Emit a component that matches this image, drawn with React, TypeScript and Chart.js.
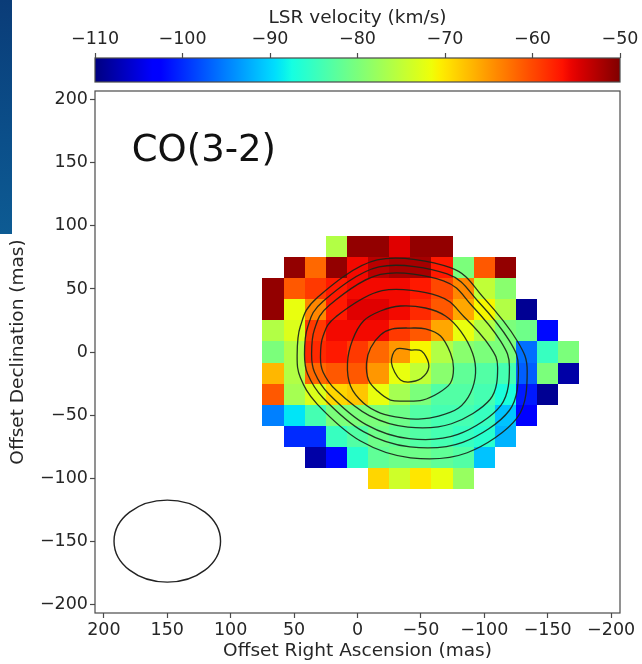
import { useEffect, useRef } from "react";
import { Chart, registerables } from "chart.js";

Chart.register(...registerables);

// Axis ticks (mas) and colour-bar ticks (km/s)
const X_TICKS = [200, 150, 100, 50, 0, -50, -100, -150, -200];
const Y_TICKS = [200, 150, 100, 50, 0, -50, -100, -150, -200];
const CB_TICKS = [-110, -100, -90, -80, -70, -60, -50];
const V_MIN = -110;
const V_MAX = -50;
const AXIS_LIMIT = 207;

// Pixel grid of the velocity map (cell centres in mas)
const CELL = 50 / 3;
const X_CENTERS = [66.67, 50, 33.33, 16.67, 0, -16.67, -33.33, -50, -66.67, -83.33, -100, -116.67, -133.33, -150, -166.67];
const Y_CENTERS = [83.33, 66.67, 50, 33.33, 16.67, 0, -16.67, -33.33, -50, -66.67, -83.33, -100];

// LSR velocity per cell (km/s), one row per declination, east to west
const ROW_0 = [null, null, null, -76, -51, -51, -55, -51, -51, null, null, null, null, null, null];
const ROW_1 = [null, -51, -62, -51, -56, -53, -52, -52, -57, -80, -61, -51, null, null, null];
const ROW_2 = [-51, -61, -59, -57, -56, -56, -56, -57, -60, -64, -75, -79, null, null, null];
const ROW_3 = [-51, -72, -64, -57, -55, -55, -56, -58, -61, -66, -71, -76, -109, null, null];
const ROW_4 = [-76, -73, -59, -56, -56, -56, -59, -61, -66, -72, -76, -80, -81, -102, null];
const ROW_5 = [-80, -76, -58, -57, -59, -62, -65, -71, -76, -79, -80, -80, -96, -85, -80];
const ROW_6 = [-67, -76, -62, -61, -61, -65, -72, -75, -79, -82, -83, -84, -97, -80, -108];
const ROW_7 = [-61, -77, -73, -69, -68, -72, -77, -80, -83, -83, -84, -87, -101, -109, null];
const ROW_8 = [-95, -89, -84, -80, -80, -80, -81, -83, -84, -84, -85, -91, -103, null, null];
const ROW_9 = [null, -100, -100, -85, -83, -81, -82, -83, -84, -85, -86, -92, null, null, null];
const ROW_10 = [null, null, -108, -102, -86, -82, -81, -81, -82, -83, -91, null, null, null, null];
const ROW_11 = [null, null, null, null, null, -69, -74, -70, -72, -78, null, null, null, null, null];
const VELOCITY = [ROW_0, ROW_1, ROW_2, ROW_3, ROW_4, ROW_5, ROW_6, ROW_7, ROW_8, ROW_9, ROW_10, ROW_11];

// Integrated-intensity contours, [RA offset, Dec offset] in mas
const CONTOUR_1 = [[-26.8, -8.7], [-30.8, 2.4], [-41.8, 1.6], [-50.5, 0.8], [-56, -8.7], [-54.4, -16.7], [-45.7, -23], [-33.9, -22.2]];
const CONTOUR_2 = [[-7.1, -8.7], [-10.3, 3.2], [-18.1, 13.5], [-27.6, 18.3], [-41.8, 19], [-53.6, 18.3], [-65.5, 12.7], [-73.3, -0.8], [-75.7, -12.7], [-73.3, -24.6], [-63.9, -32.5], [-51.3, -38.1], [-37.9, -38.9], [-26, -38.1], [-15.8, -31], [-8.7, -22.2]];
const CONTOUR_3 = [[7.9, -8.7], [3.9, 9.5], [-4.7, 24.6], [-18.1, 32.5], [-33.9, 36.5], [-53.6, 34.9], [-69.4, 28.6], [-81.2, 16.7], [-90.7, -0.8], [-93.1, -16.7], [-89.1, -32.5], [-79.7, -44.4], [-63.9, -50.8], [-48.1, -53.2], [-36.3, -52.4], [-18.1, -48.4], [-4.7, -40.5], [5.5, -27]];
const CONTOUR_4 = [[29.2, -4], [27.2, -15.8], [17, -30.2], [-9.3, -50.5], [-39.7, -59.6], [-74.1, -56.9], [-104.5, -37.7], [-110.5, -12.2], [-104.5, 4.3], [-84, 28], [-63.9, 44.4], [-19.4, 48.6], [17, 28], [27.2, 12.5]];
const CONTOUR_5 = [[36.2, -1.7], [33.9, -16], [22.6, -33.3], [-6.8, -57.6], [-40.7, -68.7], [-79.2, -65.4], [-113.1, -42.3], [-119.8, -11.6], [-113.1, 8.2], [-90.3, 36.7], [-67.8, 56.5], [-18.1, 61.5], [22.6, 36.7], [33.9, 18]];
const CONTOUR_6 = [[41.8, -1.9], [39.3, -17.5], [27.1, -36.5], [-4.7, -63.2], [-41.4, -75.3], [-83, -71.7], [-119.7, -46.4], [-126.9, -12.7], [-119.7, 9], [-95, 40.3], [-70.7, 61.9], [-16.9, 67.5], [27.1, 40.3], [39.3, 19.8]];
const CONTOUR_7 = [[47.6, -3.2], [45, -20.4], [31.8, -41.3], [-2.4, -70.6], [-41.8, -83.9], [-86.5, -79.9], [-126, -52.1], [-133.8, -15.1], [-126, 8.7], [-99.4, 43.1], [-73.3, 66.9], [-15.5, 73], [31.8, 43.1], [45, 20.6]];
const CONTOURS = [CONTOUR_1, CONTOUR_2, CONTOUR_3, CONTOUR_4, CONTOUR_5, CONTOUR_6, CONTOUR_7];

// Synthesised beam: centre and semi-axes (mas)
const BEAM_CENTER = [150, -150];
const BEAM_AXES = [42, 32.5];

const LINE_LABEL = "CO(3-2)";
const LINE_LABEL_POS = [178, 159];

const FONT = "'DejaVu Sans', 'Liberation Sans', sans-serif";
const TEXT_COLOR = "#262626";
const AXIS_COLOR = "#4a4a4a";

// matplotlib "jet" segment data
const JET_R = [[0, 0], [0.35, 0], [0.66, 1], [0.89, 1], [1, 0.5]];
const JET_G = [[0, 0], [0.125, 0], [0.375, 1], [0.64, 1], [0.91, 0], [1, 0]];
const JET_B = [[0, 0.5], [0.11, 1], [0.34, 1], [0.65, 0], [1, 0]];

function segment(table: number[][], t: number): number {
  for (let i = 1; i < table.length; i++) {
    const [t1, v1] = table[i];
    const [t0, v0] = table[i - 1];
    if (t <= t1) return v0 + ((v1 - v0) * (t - t0)) / (t1 - t0 || 1);
  }
  return table[table.length - 1][1];
}

function jet(t: number): string {
  const c = Math.max(0, Math.min(1, t));
  const r = Math.round(segment(JET_R, c) * 255);
  const g = Math.round(segment(JET_G, c) * 255);
  const b = Math.round(segment(JET_B, c) * 255);
  return `rgb(${r},${g},${b})`;
}

const minusLabel = (v: number | string) => {
  const n = Number(v);
  return n < 0 ? "\u2212" + Math.abs(n) : String(n);
};

const tickFont = { family: FONT, size: 17.5 };
const titleFont = { family: FONT, size: 18.5 };

// Draws the velocity cells, contours, beam and line label through the chart's scales
const mapPlugin = {
  id: "velocityMap",
  beforeDatasetsDraw(chart: any) {
    const { ctx, chartArea, scales } = chart;
    const xs = scales.x;
    const ys = scales.y;
    ctx.save();
    ctx.beginPath();
    ctx.rect(chartArea.left, chartArea.top, chartArea.right - chartArea.left, chartArea.bottom - chartArea.top);
    ctx.clip();

    VELOCITY.forEach((row, j) => {
      row.forEach((v, i) => {
        if (v === null) return;
        const xa = Math.round(xs.getPixelForValue(X_CENTERS[i] + CELL / 2));
        const xb = Math.round(xs.getPixelForValue(X_CENTERS[i] - CELL / 2));
        const ya = Math.round(ys.getPixelForValue(Y_CENTERS[j] + CELL / 2));
        const yb = Math.round(ys.getPixelForValue(Y_CENTERS[j] - CELL / 2));
        ctx.fillStyle = jet((v - V_MIN) / (V_MAX - V_MIN));
        ctx.fillRect(Math.min(xa, xb), Math.min(ya, yb), Math.abs(xb - xa), Math.abs(yb - ya));
      });
    });

    ctx.strokeStyle = "rgba(25,38,25,0.92)";
    ctx.lineWidth = 1.3;
    CONTOURS.forEach((pts) => {
      const p = pts.map(([a, b]) => [xs.getPixelForValue(a), ys.getPixelForValue(b)]);
      const n = p.length;
      ctx.beginPath();
      ctx.moveTo(p[0][0], p[0][1]);
      for (let k = 0; k < n; k++) {
        const p0 = p[(k - 1 + n) % n];
        const p1 = p[k];
        const p2 = p[(k + 1) % n];
        const p3 = p[(k + 2) % n];
        ctx.bezierCurveTo(
          p1[0] + (p2[0] - p0[0]) / 6,
          p1[1] + (p2[1] - p0[1]) / 6,
          p2[0] - (p3[0] - p1[0]) / 6,
          p2[1] - (p3[1] - p1[1]) / 6,
          p2[0],
          p2[1]
        );
      }
      ctx.closePath();
      ctx.stroke();
    });

    const cx = xs.getPixelForValue(BEAM_CENTER[0]);
    const cy = ys.getPixelForValue(BEAM_CENTER[1]);
    const rx = Math.abs(xs.getPixelForValue(BEAM_CENTER[0] + BEAM_AXES[0]) - cx);
    const ry = Math.abs(ys.getPixelForValue(BEAM_CENTER[1] + BEAM_AXES[1]) - cy);
    ctx.strokeStyle = "#222";
    ctx.lineWidth = 1.4;
    ctx.beginPath();
    ctx.ellipse(cx, cy, rx, ry, 0, 0, Math.PI * 2);
    ctx.stroke();

    ctx.fillStyle = "#111";
    ctx.font = `37px ${FONT}`;
    ctx.textAlign = "left";
    ctx.textBaseline = "middle";
    ctx.fillText(LINE_LABEL, xs.getPixelForValue(LINE_LABEL_POS[0]), ys.getPixelForValue(LINE_LABEL_POS[1]));
    ctx.restore();
  },
  afterDraw(chart: any) {
    const { ctx, chartArea } = chart;
    ctx.save();
    ctx.strokeStyle = AXIS_COLOR;
    ctx.lineWidth = 1.2;
    ctx.strokeRect(chartArea.left, chartArea.top, chartArea.right - chartArea.left, chartArea.bottom - chartArea.top);
    ctx.restore();
  },
};

// Paints the jet gradient inside the colour-bar axis range
const colorbarPlugin = {
  id: "colorbarFill",
  beforeDatasetsDraw(chart: any) {
    const { ctx, chartArea, scales } = chart;
    const xs = scales.x;
    const x0 = xs.getPixelForValue(V_MIN);
    const x1 = xs.getPixelForValue(V_MAX);
    const grad = ctx.createLinearGradient(x0, 0, x1, 0);
    for (let k = 0; k <= 64; k++) grad.addColorStop(k / 64, jet(k / 64));
    ctx.save();
    ctx.fillStyle = grad;
    ctx.fillRect(x0, chartArea.top, x1 - x0, chartArea.bottom - chartArea.top);
    ctx.strokeStyle = AXIS_COLOR;
    ctx.lineWidth = 1.2;
    ctx.strokeRect(x0, chartArea.top, x1 - x0, chartArea.bottom - chartArea.top);
    ctx.restore();
  },
};

const tickGrid = {
  display: true,
  drawOnChartArea: false,
  drawTicks: true,
  tickLength: 5,
  tickWidth: 1.2,
  tickColor: AXIS_COLOR,
};

export default function App() {
  const mapRef = useRef<HTMLCanvasElement | null>(null);
  const barRef = useRef<HTMLCanvasElement | null>(null);

  useEffect(() => {
    if (!mapRef.current || !barRef.current) return;

    const mapChart = new Chart(mapRef.current, {
      type: "scatter",
      data: { datasets: [] },
      plugins: [mapPlugin],
      options: {
        animation: false,
        responsive: false,
        events: [],
        layout: { padding: { top: 91, right: 22, left: 0, bottom: 0 } },
        plugins: { legend: { display: false }, tooltip: { enabled: false } },
        scales: {
          x: {
            type: "linear",
            position: "bottom",
            min: -AXIS_LIMIT,
            max: AXIS_LIMIT,
            reverse: true,
            afterBuildTicks: (s: any) => {
              s.ticks = X_TICKS.map((v) => ({ value: v }));
            },
            afterFit: (s: any) => {
              s.height = 51;
              s.paddingLeft = 0;
              s.paddingRight = 0;
            },
            ticks: { callback: minusLabel, font: tickFont, color: TEXT_COLOR, padding: 2, maxRotation: 0, autoSkip: false },
            grid: tickGrid,
            border: { display: false },
            title: { display: true, text: "Offset Right Ascension (mas)", font: titleFont, color: TEXT_COLOR, padding: { top: 0, bottom: 2 } },
          },
          y: {
            type: "linear",
            position: "left",
            min: -AXIS_LIMIT,
            max: AXIS_LIMIT,
            afterBuildTicks: (s: any) => {
              s.ticks = Y_TICKS.map((v) => ({ value: v }));
            },
            afterFit: (s: any) => {
              s.width = 95;
              s.paddingTop = 0;
              s.paddingBottom = 0;
            },
            ticks: { callback: minusLabel, font: tickFont, color: TEXT_COLOR, padding: 2, autoSkip: false },
            grid: tickGrid,
            border: { display: false },
            title: { display: true, text: "Offset Declination (mas)", font: titleFont, color: TEXT_COLOR, padding: { top: 7, bottom: 0 } },
          },
        },
      },
    } as any);

    const barChart = new Chart(barRef.current, {
      type: "scatter",
      data: { datasets: [] },
      plugins: [colorbarPlugin],
      options: {
        animation: false,
        responsive: false,
        events: [],
        layout: { padding: { top: 0, right: 22, left: 95, bottom: 10 } },
        plugins: { legend: { display: false }, tooltip: { enabled: false } },
        scales: {
          x: {
            type: "linear",
            position: "top",
            min: V_MIN,
            max: V_MAX,
            afterBuildTicks: (s: any) => {
              s.ticks = CB_TICKS.map((v) => ({ value: v }));
            },
            afterFit: (s: any) => {
              s.height = 58;
              s.paddingLeft = 0;
              s.paddingRight = 0;
            },
            ticks: { callback: minusLabel, font: tickFont, color: TEXT_COLOR, padding: 3, maxRotation: 0, autoSkip: false },
            grid: tickGrid,
            border: { display: false },
            title: { display: true, text: "LSR velocity (km/s)", font: titleFont, color: TEXT_COLOR, padding: { top: 7, bottom: 0 } },
          },
          y: { display: false, min: 0, max: 1 },
        },
      },
    } as any);

    return () => {
      mapChart.destroy();
      barChart.destroy();
    };
  }, []);

  return (
    <div style={{ position: "absolute", left: 0, top: 0, width: 642, height: 664, background: "#fff" }}>
      <div
        style={{
          position: "absolute",
          left: 0,
          top: 0,
          width: 12,
          height: 234,
          background: "linear-gradient(180deg, #0a3c78 0%, #0b4f8a 60%, #0d5b93 100%)",
        }}
      />
      <canvas ref={mapRef} width={642} height={664} style={{ position: "absolute", left: 0, top: 0, width: 642, height: 664 }} />
      <canvas ref={barRef} width={642} height={92} style={{ position: "absolute", left: 0, top: 0, width: 642, height: 92 }} />
    </div>
  );
}
